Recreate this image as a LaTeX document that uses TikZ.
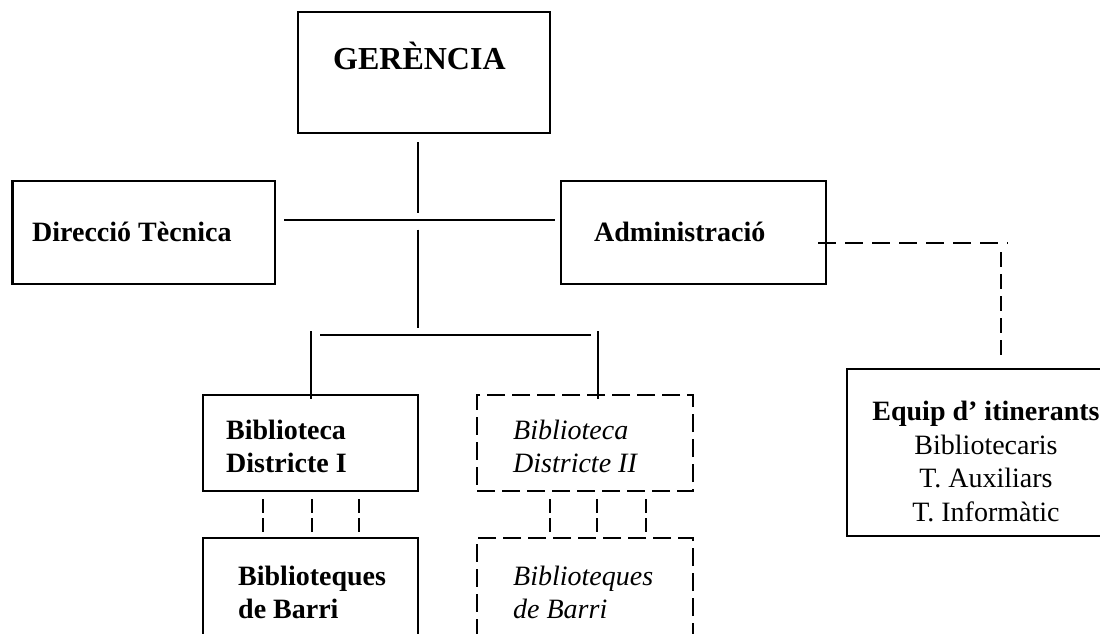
\documentclass[tikz,border=0pt]{standalone}
\usepackage{fontspec}
\setmainfont{Liberation Serif}
\begin{document}
\begin{tikzpicture}[x=1pt,y=-1pt,
  box/.style={draw, line width=2.3pt, rectangle, inner sep=0pt},
  dbox/.style={box, line width=2.6pt, dash pattern=on 18pt off 7pt},
  conn/.style={line width=2.2pt},
  dconn/.style={line width=2.8pt, dash pattern=on 18pt off 9pt},
  sconn/.style={line width=2.8pt, dash pattern=on 14pt off 5pt},
  lbl/.style={inner sep=0pt, font=\fontsize{28}{32.5}\selectfont},
  lblw/.style={lbl, anchor=base west, align=left}]
\useasboundingbox (0,0) rectangle (1100,633);
\clip (0,0) rectangle (1100,633);

% boxes
\node[box, minimum width=252pt, minimum height=121pt] (ger) at (424,72.5) {};
\node[box, minimum width=262.5pt, minimum height=103pt] (dir) at (143.75,232.5) {};
\node[box, minimum width=265pt, minimum height=103pt] (adm) at (693.5,232.5) {};
\node[box, minimum width=215pt, minimum height=96pt] (bib1) at (310.5,443) {};
\node[dbox, minimum width=216pt, minimum height=96pt] (bib2) at (585,443) {};
\node[box, minimum width=215pt, minimum height=162pt] (bar1) at (310.5,619) {};
\node[dbox, minimum width=216pt, minimum height=162pt] (bar2) at (585,619) {};
\node[box, minimum width=263pt, minimum height=167pt] (eq) at (978.5,452.5) {};

% texts (base anchor of a multi-line node = baseline of its last line)
\node[lbl, anchor=base west, font=\bfseries\fontsize{32}{38}\selectfont] (gerT) at (333,69) {GERÈNCIA};
\node[lblw, font=\bfseries\fontsize{28}{32.5}\selectfont] (dirT) at (32,241) {Direcció Tècnica};
\node[lblw, font=\bfseries\fontsize{28}{32.5}\selectfont] (admT) at (594,241) {Administració};
\node[lblw, font=\bfseries\fontsize{28}{32.5}\selectfont] (bib1T) at (226,472) {Biblioteca\\Districte I};
\node[lblw, font=\itshape\fontsize{28}{32.5}\selectfont] (bib2T) at (513,472) {Biblioteca\\Districte II};
\node[lblw, font=\bfseries\fontsize{28}{32.5}\selectfont] (bar1T) at (238,618) {Biblioteques\\de Barri};
\node[lblw, font=\itshape\fontsize{28}{32.5}\selectfont] (bar2T) at (513,618) {Biblioteques\\de Barri};
\node[lbl, anchor=base, align=center, font=\fontsize{28}{33.4}\selectfont] (eqT) at (986,521)
  {\textbf{Equip d’ itinerants}\\Bibliotecaris\\T. Auxiliars\\T. Informàtic};

% connector points
\coordinate (a1) at (418,142);
\coordinate (a2) at (418,213);
\coordinate (h1) at (284,219.6);
\coordinate (h2) at (555,219.6);
\coordinate (a3) at (418,229.6);
\coordinate (a4) at (418,328);
\coordinate (h3) at (320,335);
\coordinate (h4) at (591,335);
\coordinate (l1) at (311,331);
\coordinate (l2) at (311,399);
\coordinate (r1) at (598,331);
\coordinate (r2) at (598,399);
\coordinate (d1) at (818,243);
\coordinate (d2) at (1008,243);
\coordinate (d3) at (1001,252);
\coordinate (d4) at (1001,361);

\draw[conn] (a1) -- (a2);
\draw[conn] (h1) -- (h2);
\draw[conn] (a3) -- (a4);
\draw[conn] (h3) -- (h4);
\draw[conn] (l1) -- (l2);
\draw[conn] (r1) -- (r2);
\draw[dconn] (d1) -- (d2);
\draw[dconn, dash pattern=on 15pt off 7pt] (d3) -- (d4);

\foreach \x/\n in {263/s1,312/s2,359/s3,550/s4,597/s5,646/s6}{
  \coordinate (\n a) at (\x,499);
  \coordinate (\n b) at (\x,532);
  \draw[sconn] (\n a) -- (\n b);
}
\end{tikzpicture}
\end{document}
